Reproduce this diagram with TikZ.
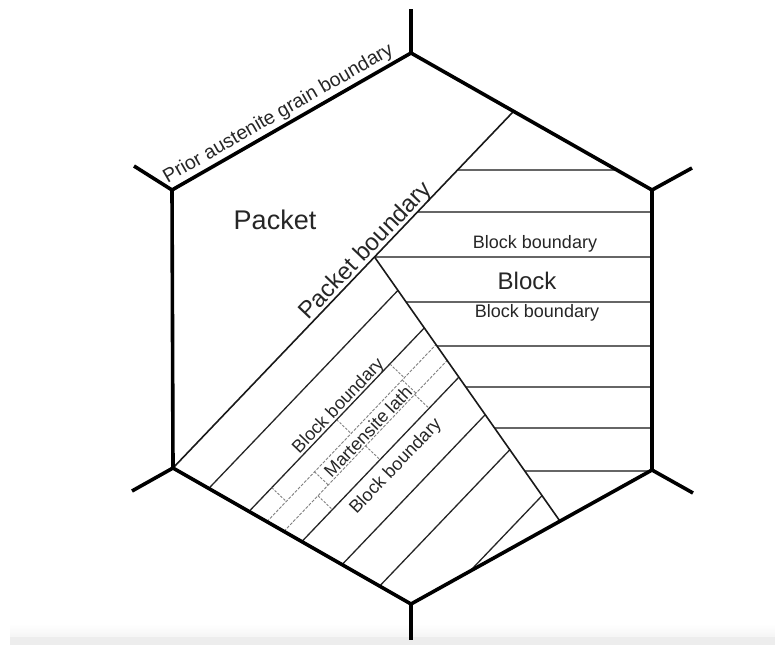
\documentclass[tikz,border=0pt]{standalone}
\usepackage{fontspec}
\setmainfont{Liberation Sans}
\begin{document}
\begin{tikzpicture}[x=1pt,y=-1pt,
  hexedge/.style={line width=3.6pt, line join=miter, line cap=butt, black},
  thinline/.style={line width=1.6pt, black!90},
  blockline/.style={line width=1.8pt, black!60},
  lathline/.style={line width=1.3pt, black!85},
  dashline/.style={line width=0.9pt, black!50, dash pattern=on 3pt off 1.5pt},
  tickline/.style={line width=0.9pt, black!50, dash pattern=on 2.5pt off 1.5pt},
  lbl/.style={text=black!85, inner sep=0pt}]
\useasboundingbox (0,0) rectangle (775,645);
\fill[white] (0,0) rectangle (775,645);
\shade[top color=white, bottom color=black!4] (10,624) rectangle (775,637);
\fill[black!7] (10,637) rectangle (775,645);

% hexagon vertices
\coordinate (T) at (411,53);
\coordinate (UR) at (652,190);
\coordinate (LR) at (652,470);
\coordinate (B) at (411,604);
\coordinate (LL) at (173,468);
\coordinate (UL) at (172,190);
% tail ends
\coordinate (Tt) at (411,9);
\coordinate (URt) at (692,168);
\coordinate (LRt) at (693,493);
\coordinate (Bt) at (411,640);
\coordinate (LLt) at (132,491);
\coordinate (ULt) at (134,166);
% packet and block boundaries
\coordinate (PT) at (513.6,111.3);
\coordinate (J) at (374.5,257);
\coordinate (Q) at (560,521.2);

% block lines (right packet)
\draw[blockline] (457.6,170) -- (616.8,170);
\draw[blockline] (417.5,212) -- (652,212);
\draw[blockline] (J) -- (652,257);
\draw[blockline] (406.1,302) -- (652,302);
\draw[blockline] (437.0,346) -- (652,346);
\draw[blockline] (465.8,387) -- (652,387);
\draw[blockline] (494.6,428) -- (652,428);
\draw[blockline] (524.7,471) -- (650,471);

% laths (lower packet) in local (s,d) frame
\begin{scope}[shift={(LL)}, x={(0.6906pt,0.7232pt)}, y={(0.7232pt,-0.6906pt)}]
  \foreach \d/\a/\b in {40/9.9/284.3, 85/21.1/275.4, 144/35.7/263.6,
                        189/46.9/254.7, 231/57.3/246.3, 286/130.6/235.4}
    \draw[lathline] (\a,\d) -- (\b,\d);
  \foreach \d/\a/\b in {105/26.0/271.4, 124/30.8/267.6}
    \draw[dashline] (\a,\d) -- (\b,\d);
  \foreach \s in {54,148,225} \draw[tickline] (\s,85) -- (\s,105);
  \foreach \s in {95,222} \draw[tickline] (\s,105) -- (\s,124);
  \foreach \s in {80,149,220} \draw[tickline] (\s,124) -- (\s,144);
  \node[lbl, rotate=46.3, anchor=base, font=\fontsize{18}{20}\selectfont] (bb1) at (159,82) {Block boundary};
  \node[lbl, rotate=46.3, anchor=base, font=\fontsize{18}{20}\selectfont] (ml) at (161,122) {Martensite lath};
  \node[lbl, rotate=46.3, anchor=base, font=\fontsize{18}{20}\selectfont] (bb2) at (155,165) {Block boundary};
  \node[lbl, rotate=46.3, anchor=base, font=\fontsize{24}{26}\selectfont] (pb) at (290,-4) {Packet boundary};
\end{scope}

\draw[thinline] (LL) -- (PT);
\draw[thinline] (J) -- (Q);

% hexagon and tails
\draw[hexedge] (T) -- (UR) -- (LR) -- (B) -- (LL) -- (UL) -- cycle;
\draw[hexedge] (T) -- (Tt);
\draw[hexedge] (UR) -- (URt);
\draw[hexedge] (LR) -- (LRt);
\draw[hexedge] (B) -- (Bt);
\draw[hexedge] (LL) -- (LLt);
\draw[hexedge] (UL) -- (ULt);

% labels
\node[lbl, rotate=29.83, anchor=base, font=\fontsize{19.5}{22}\selectfont] (pagb) at (281,118.3) {Prior austenite grain boundary};
\node[lbl, font=\fontsize{27}{30}\selectfont] (packet) at (275,220) {Packet};
\node[lbl, font=\fontsize{18}{20}\selectfont] (rbb1) at (535,244) {Block boundary};
\node[lbl, font=\fontsize{24}{26}\selectfont] (block) at (527,281) {Block};
\node[lbl, font=\fontsize{18}{20}\selectfont] (rbb2) at (537,313) {Block boundary};
\end{tikzpicture}
\end{document}
